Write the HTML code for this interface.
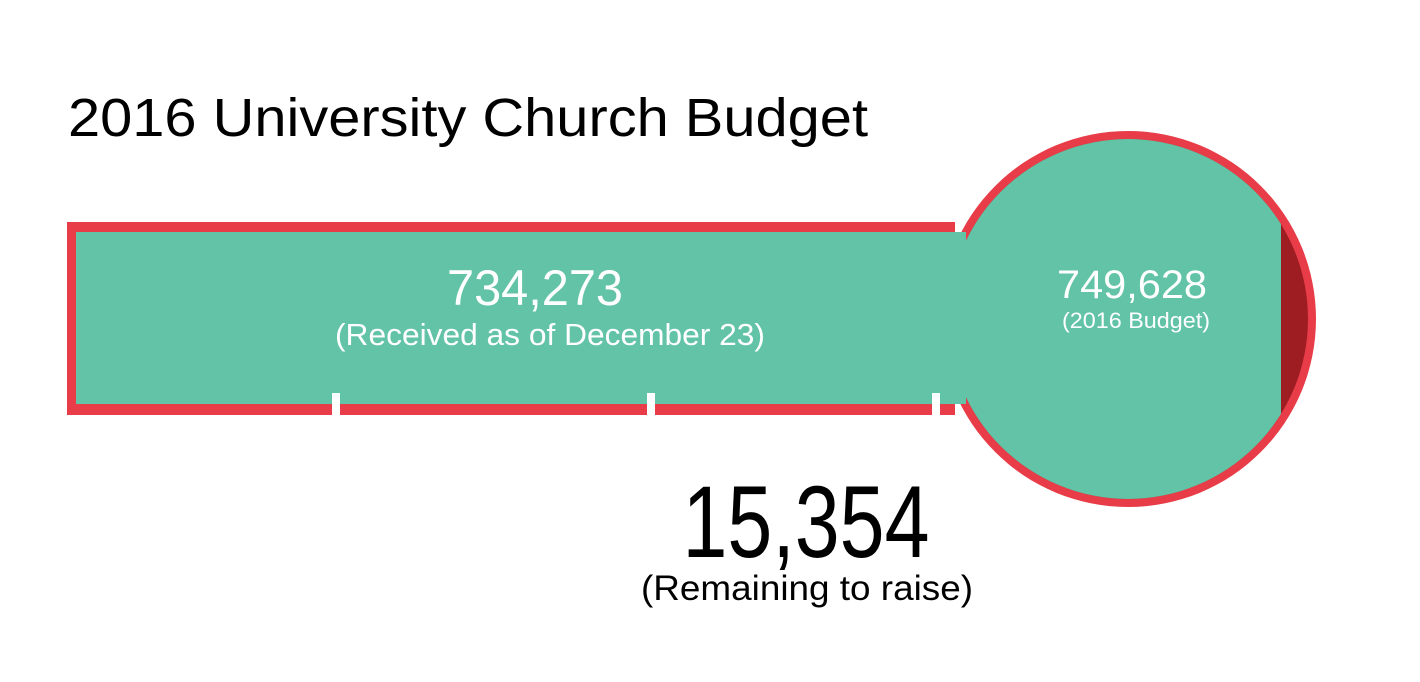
<!DOCTYPE html>
<html><head><meta charset="utf-8"><style>
html,body{margin:0;padding:0;background:#fff;}
svg{display:block;}
text{font-family:"Liberation Sans",sans-serif;}
</style></head><body>
<svg width="1420" height="682" viewBox="0 0 1420 682">
<defs><clipPath id="lc"><rect x="0" y="0" width="1281" height="682"/></clipPath></defs>
<text x="68" y="136" font-size="54" fill="#000" textLength="800" lengthAdjust="spacingAndGlyphs">2016 University Church Budget</text>
<g id="thermo">
<circle cx="1128" cy="319" r="188" fill="#e83d48"/>
<rect x="67" y="222" width="888" height="193" fill="#e83d48"/>
<circle cx="1128" cy="319" r="180" fill="#9d1d22"/>
<circle cx="1128" cy="319" r="180" fill="#62c3a7" clip-path="url(#lc)"/>
<rect x="76" y="232" width="890" height="172" fill="#62c3a7"/>
</g>
<g id="ticks"></g>
<text x="535" y="305" font-size="50" fill="#fff" text-anchor="middle" textLength="176" lengthAdjust="spacingAndGlyphs">734,273</text>
<text x="550" y="345" font-size="31" fill="#fff" text-anchor="middle" textLength="430" lengthAdjust="spacingAndGlyphs">(Received as of December 23)</text>
<text x="1132" y="298" font-size="40" fill="#fff" text-anchor="middle" textLength="150" lengthAdjust="spacingAndGlyphs">749,628</text>
<text x="1136" y="328" font-size="22" fill="#fff" text-anchor="middle" textLength="148" lengthAdjust="spacingAndGlyphs">(2016 Budget)</text>
<text x="806" y="557" font-size="102" fill="#000" text-anchor="middle" textLength="247" lengthAdjust="spacingAndGlyphs">15,354</text>
<text x="807" y="600" font-size="35" fill="#000" text-anchor="middle" textLength="332" lengthAdjust="spacingAndGlyphs">(Remaining to raise)</text>
</svg>
<script>
const tickPositions = [336, 651, 936];
const g = document.getElementById('ticks');
tickPositions.forEach(function(x){
  const r = document.createElementNS('http://www.w3.org/2000/svg','rect');
  
  
  r.setAttribute('x', x-4); r.setAttribute('y', 393);
  r.setAttribute('width', 8); r.setAttribute('height', 23);
  r.setAttribute('fill', '#fff');
  g.appendChild(r);
});
</script>
</body></html>
